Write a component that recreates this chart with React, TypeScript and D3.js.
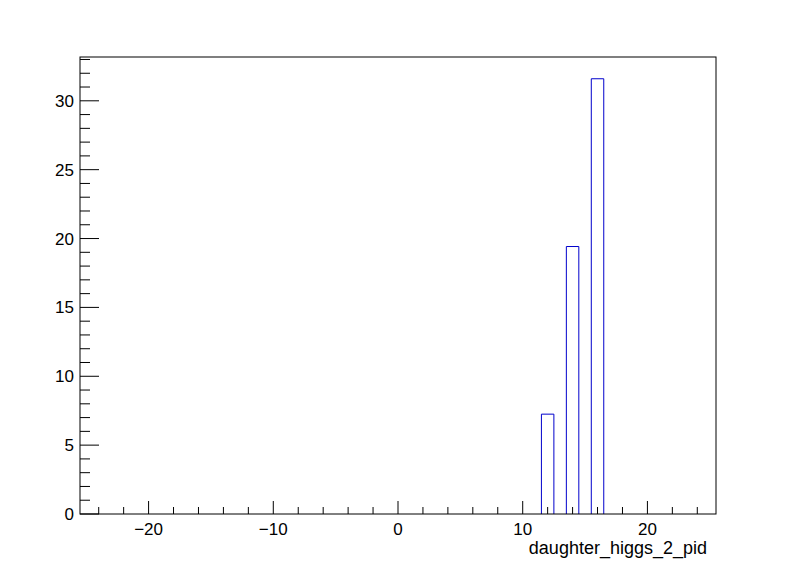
import React from "react";
import * as d3 from "d3";

const binCenters = [12, 14, 16];
const binValues = [7.25, 19.42, 31.6];
const xTickMajor = [-20, -10, 0, 10, 20];
const yTickMajor = [0, 5, 10, 15, 20, 25, 30];
const xTitle = "daughter_higgs_2_pid";

export default function App() {
  const W = 796, H = 572;
  const left = 80, right = 716, top = 57, bottom = 514;
  const x = d3.scaleLinear().domain([-25.5, 25.5]).range([left, right]);
  const y = d3.scaleLinear().domain([0, 33.18]).range([bottom, top]);
  const xMinor = d3.range(-24, 25, 2).filter((v) => v % 10 !== 0);
  const yMinor = d3.range(0, 34, 1).filter((v) => v % 5 !== 0 && y(v) > top);
  const font = "'Liberation Sans', Arial, Helvetica, sans-serif";
  return (
    <svg width={W} height={H} style={{ position: "absolute", left: 0, top: 0, background: "#fff" }}>
      <rect x={0} y={0} width={W} height={H} fill="#fff" />
      {binCenters.map((c, i) => {
        const x0 = x(c - 0.5), x1 = x(c + 0.5), yt = y(binValues[i]);
        return (
          <path key={i} d={`M${x0},${bottom}V${yt}H${x1}V${bottom}`} fill="none" stroke="#0000cc" strokeWidth={1} />
        );
      })}
      <rect x={left} y={top} width={right - left} height={bottom - top} fill="none" stroke="#000" strokeWidth={1} />
      {xTickMajor.map((v) => (
        <g key={"xm" + v}>
          <line x1={x(v)} x2={x(v)} y1={bottom} y2={bottom - 13} stroke="#000" />
          <text x={x(v)} y={534.5} textAnchor="middle" fontFamily={font} fontSize={17}>
            {v < 0 ? "\u2212" + Math.abs(v) : v}
          </text>
        </g>
      ))}
      {xMinor.map((v) => (
        <line key={"xn" + v} x1={x(v)} x2={x(v)} y1={bottom} y2={bottom - 7} stroke="#000" />
      ))}
      {yTickMajor.map((v) => (
        <g key={"ym" + v}>
          <line x1={left} x2={left + 19} y1={y(v)} y2={y(v)} stroke="#000" />
          <text x={74} y={y(v) + 6} textAnchor="end" fontFamily={font} fontSize={17}>
            {v}
          </text>
        </g>
      ))}
      {yMinor.map((v) => (
        <line key={"yn" + v} x1={left} x2={left + 10} y1={y(v)} y2={y(v)} stroke="#000" />
      ))}
      <text x={707} y={554} textAnchor="end" fontFamily={font} fontSize={18}>
        {xTitle}
      </text>
    </svg>
  );
}
